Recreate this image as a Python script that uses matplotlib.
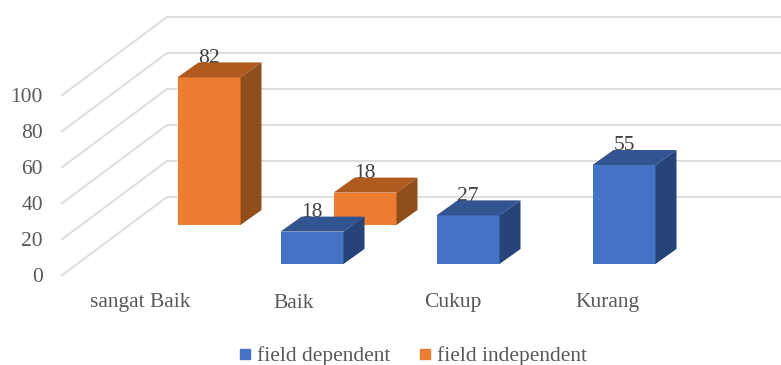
import matplotlib
matplotlib.use("Agg")
import matplotlib.pyplot as plt
from matplotlib.lines import Line2D
from matplotlib.patches import Polygon

categories = ["sangat Baik", "Baik", "Cukup", "Kurang"]
field_dependent = [None, 18, 27, 55]
field_independent = [82, 18, None, None]
y_ticks = [0, 20, 40, 60, 80, 100]

plt.rcParams['font.family'] = ['Liberation Serif', 'DejaVu Serif']

# scale of the full-figure axes, pixels per category and per value unit
PX_CAT = 156
PX_VAL = 1.8
BAR_W = 63 / PX_CAT

def dx(px):
    return px / PX_CAT

def dv(px):
    return px / PX_VAL

fig = plt.figure(figsize=(7.81, 3.65), dpi=100)
ax = fig.add_axes((0, 0, 1, 1))
ax.set_xlim(-1, -1 + 781 / PX_CAT)
ax.set_ylim(-101 / PX_VAL, 264 / PX_VAL)
ax.axis('off')

# walls: each gridline runs from the front edge to the back wall, then right
front_x, front_v = dx(61 - 156), dv(-12)
back_x, back_v = dx(167 - 156), dv(67)
for t in y_ticks:
    ax.plot([front_x, back_x, 5], [t + front_v, t + back_v, t + back_v],
            color="#dedede", lw=1.4, zorder=1, solid_capstyle='butt')
    ax.text(dx(43 - 156), t + front_v - dv(1), str(t), ha="right", va="center",
            fontsize=15.5, color="#595959", zorder=2)

def draw_bar(i, value, off_x, off_v, front, top, side):
    # front face plus the top and side faces of the box
    x0 = i - BAR_W / 2 + off_x
    x1 = x0 + BAR_W
    y0, y1 = off_v, off_v + value
    ddx, ddv = dx(21), dv(15)
    ax.text((x0 + x1) / 2, y1 + dv(19), str(value), ha="center", va="center",
            fontsize=15.5, color="#404040", zorder=3)
    ax.add_patch(Polygon([(x0, y0), (x1, y0), (x1, y1), (x0, y1)], fc=front, ec="none", zorder=4))
    ax.add_patch(Polygon([(x0, y1), (x1, y1), (x1 + ddx, y1 + ddv), (x0 + ddx, y1 + ddv)],
                         fc=top, ec="none", zorder=4))
    ax.add_patch(Polygon([(x1, y0), (x1 + ddx, y0 + ddv), (x1 + ddx, y1 + ddv), (x1, y1)],
                         fc=side, ec="none", zorder=4))

# back row first so the blue boxes sit in front of it
for i, v in enumerate(field_independent):
    if v is not None:
        draw_bar(i, v, dx(53), dv(39), "#ed7d31", "#b05a1f", "#8f4e1a")
for i, v in enumerate(field_dependent):
    if v is not None:
        draw_bar(i, v, 0, 0, "#4472c4", "#325490", "#264478")

# category labels sit a little left of the bars
label_shift = [-16, -18, -15, -16]
for i, name in enumerate(categories):
    ax.text(i + dx(label_shift[i]), dv(-39), name, ha="center", va="center",
            fontsize=15.5, color="#595959")

handles = [Line2D([], [], ls="none", marker="s", ms=7, color="#4472c4"),
           Line2D([], [], ls="none", marker="s", ms=7, color="#ed7d31")]
ax.legend(handles, ["field dependent", "field independent"], ncol=2, frameon=False,
          loc="center", bbox_to_anchor=(412.5 / 781, 1 - 356 / 365), fontsize=15.5,
          labelcolor="#595959", handlelength=0.65, handletextpad=0.25, columnspacing=1.25,
          borderpad=0, borderaxespad=0)

fig.savefig("out.png", dpi=100)
